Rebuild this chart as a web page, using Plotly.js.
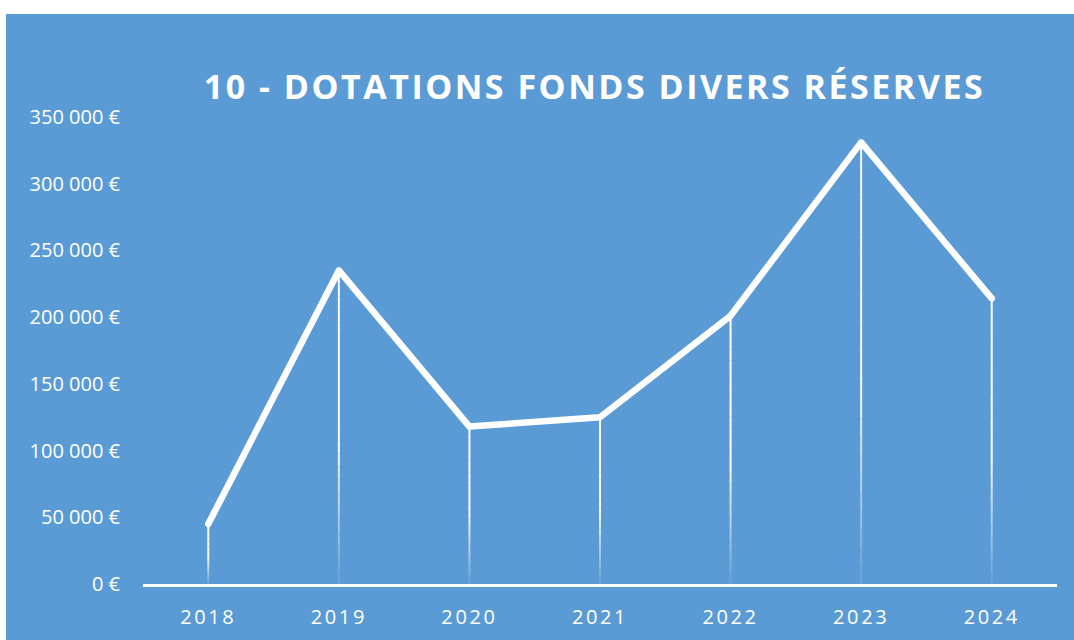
<!DOCTYPE html>
<html>
<head>
<meta charset="utf-8">
<script src="https://cdn.plot.ly/plotly-3.0.1.min.js"></script>
<style>
  html, body { margin: 0; padding: 0; background: #ffffff; width: 1074px; height: 640px; overflow: hidden; }
  #chart { position: absolute; left: 6px; top: 14px; width: 1068px; height: 626px; }
  .gtitle { letter-spacing: 2.5px; }
  .xtick text { letter-spacing: 2.6px; }
  .scatterlayer path.js-line { stroke-linejoin: round; stroke-linecap: round; }
</style>
</head>
<body>
<div id="chart"></div>
<script>
const years = ["2018", "2019", "2020", "2021", "2022", "2023", "2024"];
const dotations = [45000, 235000, 118000, 125000, 201000, 331000, 214000];
const chartTitle = "10 - DOTATIONS FONDS DIVERS RÉSERVES";
const yTickVals = [0, 50000, 100000, 150000, 200000, 250000, 300000, 350000];
const yTickText = yTickVals.map(v => String(v).replace(/\B(?=(\d{3})+(?!\d))/g, " ") + " €");

const BLUE = "#5B9BD5";
const WHITE = "#ffffff";

// drop lines with fading gradient, built from the data values
const shapes = [];
const N = 24;
years.forEach((yr, i) => {
  const v = dotations[i];
  for (let k = 0; k < N; k++) {
    const t0 = k / N, t1 = (k + 1) / N;
    const tm = (t0 + t1) / 2;
    const op = tm < 0.55 ? 1 : 1 - (tm - 0.55) / 0.45 * 0.95;
    shapes.push({
      type: "line", xref: "x", yref: "y", layer: "above",
      x0: i, x1: i, y0: v * (1 - t0), y1: v * (1 - t1),
      line: { color: WHITE, width: 2 }, opacity: op
    });
  }
});

const trace = {
  x: years, y: dotations, type: "scatter", mode: "lines",
  line: { color: WHITE, width: 6.5 },
  hoverinfo: "skip", showlegend: false
};

const layout = {
  width: 1068, height: 626,
  paper_bgcolor: BLUE, plot_bgcolor: "rgba(0,0,0,0)",
  margin: { l: 137, r: 17, t: 103, b: 56 },
  font: { family: "Open Sans, sans-serif", color: WHITE },
  title: {
    text: "<b>" + chartTitle + "</b>",
    font: { family: "Open Sans, sans-serif", size: 34, color: WHITE },
    xref: "paper", x: 0.494, xanchor: "center",
    yref: "container", y: 1 - 73 / 626, yanchor: "middle"
  },
  xaxis: {
    type: "category", range: [-0.5, 6.5],
    showgrid: false, zeroline: false,
    showline: true, linecolor: WHITE, linewidth: 2.5,
    ticks: "outside", ticklen: 13, tickcolor: "rgba(0,0,0,0)",
    tickfont: { size: 20, color: WHITE, family: "Open Sans, sans-serif" },
    fixedrange: true
  },
  yaxis: {
    range: [0, 350000], tickmode: "array", tickvals: yTickVals, ticktext: yTickText,
    showgrid: false, zeroline: false, showline: false,
    ticks: "outside", ticklen: 18, tickcolor: "rgba(0,0,0,0)",
    tickfont: { size: 20, color: WHITE, family: "Open Sans, sans-serif" },
    fixedrange: true
  },
  shapes: shapes
};

Plotly.newPlot("chart", [trace], layout, { displayModeBar: false, staticPlot: true });
</script>
</body>
</html>
